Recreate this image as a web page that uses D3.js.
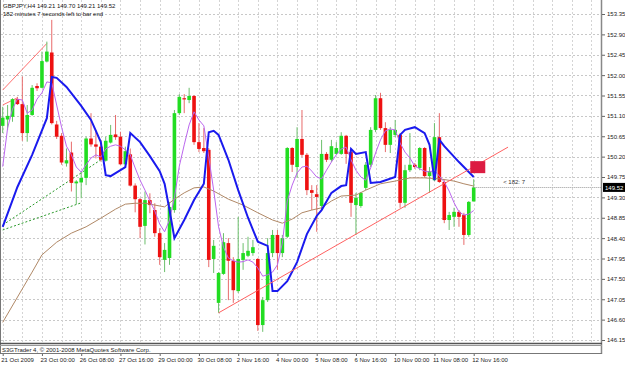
<!DOCTYPE html>
<html>
<head>
<meta charset="utf-8">
<script src="https://cdn.jsdelivr.net/npm/d3@7"></script>
<style>
body { margin: 0; background: #fff; }
text { font-family: "Liberation Sans", Arial, sans-serif; }
</style>
</head>
<body>
<svg id="chart" width="625" height="365"></svg>
<script>
// GBPJPY H4 bars, 21 Oct 2009 16:00 .. 12 Nov 2009 16:00
var opens  = [150.88,151.02,151.08,151.47,151.36,150.72,151.12,151.76,151.72,152.30,
              152.50,150.91,150.66,150.05,150.29,149.61,149.63,149.73,150.60,150.47,
              150.42,150.11,150.51,150.69,150.64,150.03,150.25,149.56,149.26,148.67,
              149.24,149.02,148.51,147.92,147.96,149.02,151.16,151.49,151.45,151.54,
              150.52,150.39,150.35,147.94,146.97,147.61,148.29,147.90,147.23,147.92,
              148.01,148.07,147.94,146.48,147.03,148.07,148.47,148.07,148.43,150.39,
              149.97,150.59,150.24,149.46,149.37,149.11,150.26,150.13,150.26,150.26,
              150.66,150.30,149.13,149.11,149.51,150.02,150.79,151.49,150.83,150.46,
              150.68,150.68,149.18,149.90,150.02,149.95,150.39,149.77,149.68,150.63,
              149.64,148.80,148.87,148.98,148.91,148.47,149.21];
var highs  = [151.30,151.34,151.49,151.52,151.97,151.34,151.78,151.82,152.52,152.74,
              153.22,150.99,150.72,150.38,150.53,149.68,149.87,150.64,151.16,150.79,
              150.57,150.64,150.90,151.12,150.75,150.42,150.38,149.61,149.29,149.43,
              149.39,149.17,148.62,148.29,149.20,151.23,151.58,151.58,151.72,151.56,
              150.94,150.83,150.39,148.36,147.65,148.51,148.40,147.98,148.87,148.29,
              148.43,148.36,147.96,147.10,148.40,148.58,148.58,148.47,150.41,150.41,
              150.85,151.23,150.28,149.57,149.57,150.57,150.30,150.57,150.52,150.74,
              150.68,150.35,149.40,149.42,150.08,150.85,151.56,151.61,150.96,150.85,
              151.01,150.72,150.02,150.72,150.06,150.41,150.41,149.97,150.94,151.16,
              149.68,148.98,149.07,149.02,148.96,149.22,149.70];
var lows   = [150.72,150.79,150.97,151.34,150.55,150.53,151.10,151.65,151.71,152.28,
              150.91,150.59,150.02,149.98,149.43,149.15,149.28,149.57,150.42,150.16,
              150.09,150.09,150.49,150.57,150.02,149.98,149.54,148.97,148.40,148.26,
              148.95,148.43,147.81,147.65,147.81,148.96,151.12,151.16,151.38,150.46,
              150.30,150.28,147.76,147.63,146.75,147.59,147.03,146.97,147.19,147.70,
              147.98,148.01,146.35,146.33,146.99,147.98,147.70,147.98,148.40,149.86,
              149.73,150.19,149.35,149.02,148.54,149.02,150.08,150.08,150.24,150.24,
              150.04,148.87,148.47,149.07,149.46,149.97,150.74,150.79,150.30,150.28,
              150.63,149.07,149.07,149.86,149.93,149.90,149.73,149.40,149.66,149.62,
              148.73,148.58,148.65,148.65,148.25,148.43,149.21];
var closes = [151.06,151.10,151.47,151.36,150.72,151.12,151.72,151.71,152.31,152.52,
              150.94,150.64,150.07,150.12,149.62,149.65,149.73,150.60,150.47,150.42,
              150.13,150.55,150.68,150.63,150.03,150.32,149.56,149.26,148.65,149.24,
              149.13,148.51,147.98,148.14,149.09,151.16,151.52,151.47,151.54,150.52,
              150.37,150.32,147.92,148.23,147.63,148.31,147.90,147.25,147.94,148.07,
              148.12,148.20,146.48,147.03,148.07,148.47,148.07,148.40,150.39,150.02,
              150.59,150.24,149.46,149.40,149.31,150.26,150.13,150.43,150.39,150.66,
              150.26,149.18,149.29,149.40,150.02,150.79,151.49,150.83,150.46,150.79,
              150.79,149.18,149.90,150.02,149.97,150.39,149.77,149.88,150.63,149.64,
              148.80,148.91,148.98,148.87,148.47,149.20,149.52];

var timeTickBars = [0, 8, 16, 24, 32, 40, 48, 56, 64, 72, 80, 88, 96];
var timeLabels = ["21 Oct 2009", "23 Oct 00:00", "26 Oct 08:00", "27 Oct 16:00",
                  "29 Oct 00:00", "30 Oct 08:00", "2 Nov 16:00", "4 Nov 00:00",
                  "5 Nov 08:00", "6 Nov 16:00", "10 Nov 00:00", "11 Nov 08:00",
                  "12 Nov 16:00"];
var priceTicks = [146.15, 146.60, 147.05, 147.50, 147.95, 148.40, 148.85, 149.30,
                  149.75, 150.20, 150.65, 151.10, 151.55, 152.00, 152.45, 152.90, 153.35];

// indicator lines: [bar, price]
var blueMA = [[0,148.65],[3,149.53],[6,150.24],[9,151.05],[10,151.96],[11,151.94],[13,151.74],
              [16,151.32],[18,151.01],[20,150.52],[21,149.79],[22,149.77],[25,149.97],[26,150.72],
              [28,150.52],[30,150.21],[32,149.88],[33,149.60],[34,149.02],[35,148.40],[37,148.80],
              [39,149.24],[41,149.60],[42,150.74],[43,150.77],[44,150.68],[46,150.13],[48,149.46],
              [50,148.85],[52,148.32],[54,148.23],[55,147.23],[56,147.23],[58,147.45],[60,147.87],
              [62,148.49],[64,148.89],[65,149.02],[67,149.40],[69,149.55],[70,149.57],[71,150.37],
              [72,150.26],[74,150.30],[75,149.62],[77,149.64],[80,149.75],[81,150.68],[82,150.79],
              [84,150.85],[86,150.72],[87,150.46],[88,149.68],[89,150.57],[90,150.43],[93,150.08],
              [95,149.86],[96,149.75]];
var violetMA = [149.98,150.83,151.25,151.47,151.45,151.16,151.23,151.47,151.61,151.85,
                151.83,151.34,150.85,150.43,150.24,149.97,149.86,150.02,150.17,150.24,
                150.19,150.37,150.43,150.46,150.43,150.35,150.24,149.95,149.68,149.46,
                149.22,149.00,148.71,148.54,148.80,149.29,149.99,150.46,150.90,151.19,
                151.01,150.88,150.19,149.46,148.65,148.20,147.96,147.90,147.87,147.88,
                147.92,147.87,147.74,147.56,147.59,147.65,147.81,148.29,149.22,149.57,
                149.84,149.97,149.99,149.88,149.75,149.71,149.90,150.08,150.24,150.37,
                150.41,150.13,149.90,149.75,149.68,149.95,150.28,150.57,150.77,150.81,
                150.79,150.50,150.30,150.17,149.99,149.93,149.88,149.86,149.90,149.77,
                149.64,149.44,149.18,148.98,148.91,148.93,149.01];
var brownMA = [[0,146.54],[6,147.65],[8,148.03],[11,148.31],[14,148.51],[17,148.65],[20,148.84],
               [23,149.04],[25,149.15],[27,149.17],[29,149.17],[31,149.13],[33,149.09],[35,149.26],
               [37,149.40],[39,149.51],[41,149.53],[43,149.44],[46,149.26],[49,149.13],[52,148.96],
               [55,148.80],[57,148.73],[59,148.82],[61,148.96],[63,149.02],[65,149.07],[67,149.22],
               [69,149.33],[72,149.35],[74,149.46],[77,149.60],[80,149.66],[83,149.73],[86,149.73],
               [89,149.71],[92,149.66],[94,149.60],[96,149.55]];

var redTrend = [[44,146.75],[103,150.41]];
var redTrendTop = [[[0,151.67],[9,152.70]], [[0,151.34],[3,151.50]]];
var greenDots = [[[0,148.69],[20,150.13]], [[0,148.58],[16,149.18]]];

var svg = d3.select("#chart");
var W = 625, H = 365;
var plotRight = 601, plotBottom = 343;

var x = d3.scaleLinear().domain([0, 96]).range([2.7, 473.7]);
var y = d3.scaleLinear().domain([146.15, 153.35]).range([340, 14]);

svg.append("rect").attr("width", W).attr("height", H).attr("fill", "#fff");

// grid
var grid = svg.append("g").attr("class", "grid");
grid.selectAll("line.h").data(priceTicks).enter().append("line")
    .attr("x1", 1).attr("x2", plotRight)
    .attr("y1", function(d) { return Math.round(y(d)) + 0.5; })
    .attr("y2", function(d) { return Math.round(y(d)) + 0.5; })
    .attr("stroke", "#c8c8c8").attr("stroke-dasharray", "2,2");
var vgrid = d3.range(0, 123, 4);
grid.selectAll("line.v").data(vgrid).enter().append("line")
    .attr("x1", function(d) { return Math.round(x(d)) + 0.5; })
    .attr("x2", function(d) { return Math.round(x(d)) + 0.5; })
    .attr("y1", 0).attr("y2", plotBottom)
    .attr("stroke", "#d4d4d4").attr("stroke-dasharray", "2,2");

var line = d3.line().x(function(d) { return x(d[0]); }).y(function(d) { return y(d[1]); });

// trend lines
redTrendTop.forEach(function(seg) {
    svg.append("path").datum(seg).attr("d", line)
        .attr("fill", "none").attr("stroke", "#ff7070").attr("stroke-width", 1);
});
greenDots.forEach(function(seg) {
    svg.append("path").datum(seg).attr("d", line)
        .attr("fill", "none").attr("stroke", "#2a9a2a").attr("stroke-width", 1)
        .attr("stroke-dasharray", "2,2");
});

// candles
var bars = d3.range(opens.length);
var candles = svg.append("g").attr("class", "candles");
candles.selectAll("line.wick").data(bars).enter().append("line")
    .attr("x1", function(i) { return x(i); })
    .attr("x2", function(i) { return x(i); })
    .attr("y1", function(i) { return y(highs[i]); })
    .attr("y2", function(i) { return y(lows[i]); })
    .attr("stroke", function(i) { return closes[i] >= opens[i] ? "#6cbf6c" : "#e86a6a"; })
    .attr("stroke-width", 1);
candles.selectAll("rect.body").data(bars).enter().append("rect")
    .attr("x", function(i) { return x(i) - 1.8; })
    .attr("width", 3.6)
    .attr("y", function(i) { return y(Math.max(opens[i], closes[i])); })
    .attr("height", function(i) { return Math.max(1.2, Math.abs(y(opens[i]) - y(closes[i]))); })
    .attr("fill", function(i) { return closes[i] >= opens[i] ? "#22dd22" : "#ee1111"; });

// moving averages
svg.append("path").datum(brownMA).attr("d", line)
    .attr("fill", "none").attr("stroke", "#b08866").attr("stroke-width", 1);
svg.append("path").datum(violetMA.map(function(v, i) { return [i, v]; })).attr("d", line)
    .attr("fill", "none").attr("stroke", "#bb66ee").attr("stroke-width", 1);
svg.append("path").datum(blueMA).attr("d", line)
    .attr("fill", "none").attr("stroke", "#1a1aee").attr("stroke-width", 2);

svg.append("path").datum(redTrend).attr("d", line)
    .attr("fill", "none").attr("stroke", "#ff6060").attr("stroke-width", 1);

// current price line and marker
var lastClose = closes[closes.length - 1];
svg.append("line")
    .attr("x1", x(96)).attr("x2", plotRight)
    .attr("y1", Math.round(y(lastClose)) + 0.5).attr("y2", Math.round(y(lastClose)) + 0.5)
    .attr("stroke", "#999").attr("stroke-dasharray", "1,1");
svg.append("rect").attr("x", x(95.3)).attr("y", y(150.10))
    .attr("width", 15).attr("height", 12).attr("fill", "#dc1c42");
svg.append("text").attr("x", x(102)).attr("y", y(lastClose) - 3)
    .attr("font-size", 6).attr("fill", "#333").text("<  182: 7");

// frame
svg.append("line").attr("x1", 0.5).attr("x2", 0.5).attr("y1", 0).attr("y2", 354)
    .attr("stroke", "#777");
svg.append("line").attr("x1", plotRight + 0.5).attr("x2", plotRight + 0.5).attr("y1", 0).attr("y2", 354)
    .attr("stroke", "#888").attr("stroke-width", 1.5);
svg.append("line").attr("x1", 0).attr("x2", plotRight + 1).attr("y1", plotBottom + 0.5).attr("y2", plotBottom + 0.5)
    .attr("stroke", "#555").attr("stroke-width", 1.5);
svg.append("line").attr("x1", 0).attr("x2", plotRight + 1).attr("y1", 345.5).attr("y2", 345.5)
    .attr("stroke", "#999");
svg.append("line").attr("x1", 0).attr("x2", plotRight + 1).attr("y1", 353.5).attr("y2", 353.5)
    .attr("stroke", "#777");
svg.append("text").attr("x", 2).attr("y", 351.5).attr("font-size", 6).attr("fill", "#222")
    .text("S3GTrader 4, \u00a9 2001-2008 MetaQuotes Software Corp.");

// price axis
var yAxis = d3.axisRight(y).tickValues(priceTicks).tickSize(3).tickPadding(2)
    .tickFormat(d3.format(".2f"));
var ya = svg.append("g").attr("transform", "translate(" + (plotRight + 1) + ",0)").call(yAxis);
ya.select(".domain").remove();
ya.selectAll("line").attr("stroke", "#666");
ya.selectAll("text").attr("font-size", 6).attr("fill", "#222")
    .attr("font-family", "'Liberation Sans', Arial, sans-serif");

// current price tag
svg.append("rect").attr("x", plotRight + 2).attr("y", y(lastClose) - 4.5)
    .attr("width", 22).attr("height", 9).attr("fill", "#000");
svg.append("text").attr("x", plotRight + 4).attr("y", y(lastClose) + 2.2)
    .attr("font-size", 6).attr("fill", "#fff").text(d3.format(".2f")(lastClose));

// time axis
var xAxis = d3.axisBottom(x).tickValues(timeTickBars).tickSize(2).tickPadding(2)
    .tickFormat(function(d, i) { return timeLabels[i]; });
var xa = svg.append("g").attr("transform", "translate(0,354)").call(xAxis);
xa.select(".domain").remove();
xa.selectAll("line").attr("stroke", "#666");
xa.selectAll("text").attr("font-size", 6).attr("fill", "#222").attr("text-anchor", "start")
    .attr("dx", -2).attr("font-family", "'Liberation Sans', Arial, sans-serif");

// header
svg.append("text").attr("x", 3).attr("y", 8).attr("font-size", 6).attr("fill", "#111")
    .text("GBPJPY,H4  149.21 149.70 149.21 149.52");
svg.append("text").attr("x", 3).attr("y", 16).attr("font-size", 6).attr("fill", "#111")
    .text("182 minutes 7 seconds left to bar end");
</script>
</body>
</html>
